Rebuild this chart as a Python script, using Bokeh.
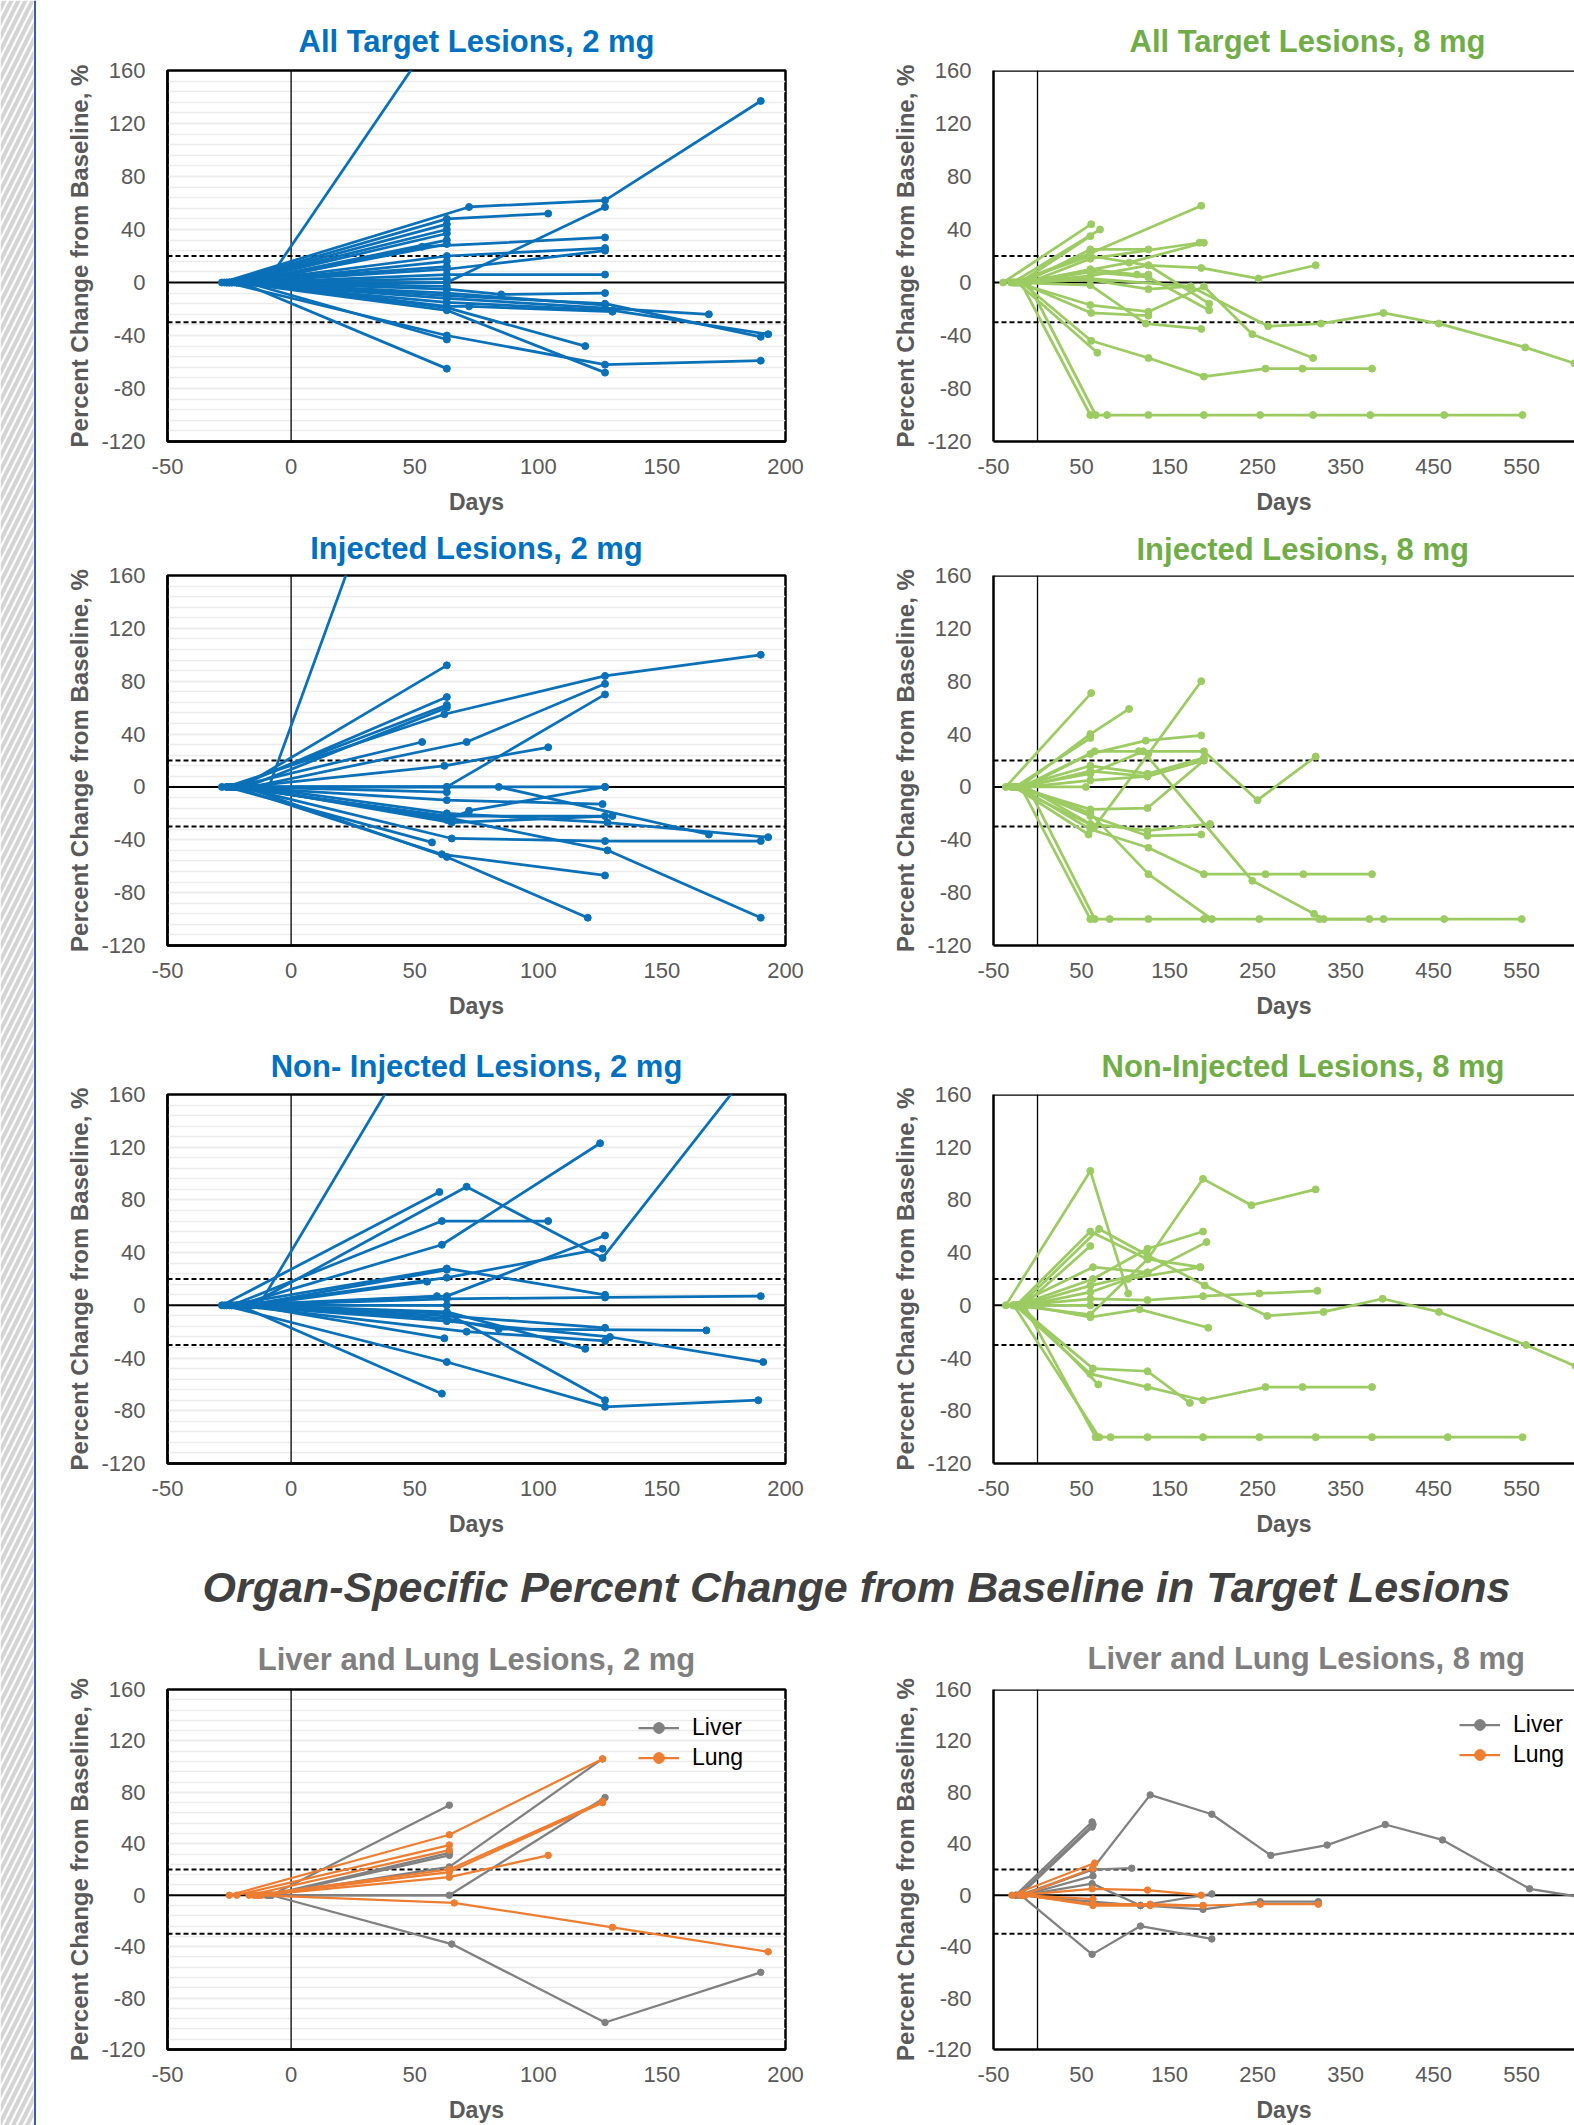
from bokeh.plotting import figure
from bokeh.models import Range1d, FixedTicker, Span, Label, Legend, LegendItem, Title
from bokeh.layouts import row, column
from bokeh.embed import file_html
from bokeh.resources import INLINE

# ---------------- data (days from treatment start, % change from baseline) -------------
y_ticks = [-120, -80, -40, 0, 40, 80, 120, 160]
y_minor = list(range(-120, 161, 8))
x_ticks_2mg = [-50, 0, 50, 100, 150, 200]
x_ticks_8mg = [-50, 50, 150, 250, 350, 450, 550]
ref_levels = [20, -30]

# All target lesions, 2 mg
tl2_days = [[-10, 63], [-28, 72, 127, 190], [-26, 63, 104], [-25, 63], [-24, 63], [-22, 63],
            [-20, 63], [-18, 63], [-16, 53, 127], [-21, 63, 127], [-23, 63, 127], [-19, 63],
            [-17, 63, 127], [-15, 63, 127], [-27, 63], [-14, 63], [-20, 63, 85, 127],
            [-22, 63, 127], [-19, 63, 72, 130], [-24, 63, 169], [-20, 63, 127, 190],
            [-25, 63, 130, 193], [-21, 63, 119], [-26, 63, 127, 190], [-18, 63],
            [-22, 63, 127], [-20, 63], [-13, 63]]
tl2_pct = [[0, 200], [0, 57, 62, 137], [0, 48, 52], [0, 44], [0, 40], [0, 37],
           [0, 32], [0, 29], [0, 27, 34], [0, 20, 26], [0, 10, 24], [0, 16],
           [0, 6, 6], [0, 0, 57], [0, 12], [0, 3], [0, -5, -9, -8],
           [0, -8, -17], [0, -18, -18, -22], [0, -12, -24], [0, -10, -16, -41],
           [0, -15, -21, -39], [0, -19, -48], [0, -40, -62, -59], [0, -43],
           [0, -21, -68], [0, -65], [0, -3]]

# Injected lesions, 2 mg
inj2_days = [[-9, 63], [-20, 63], [-22, 63], [-24, 63], [-18, 63], [-26, 62, 127, 190],
             [-16, 71, 127], [-21, 63, 127], [-23, 53], [-19, 62, 104], [-28, 84, 169],
             [-25, 63, 127], [-17, 63], [-22, 63, 126], [-20, 63, 72, 127], [-24, 63, 127],
             [-18, 65, 130], [-21, 65, 127, 190], [-15, 63, 128, 193], [-26, 57],
             [-23, 61, 127], [-19, 63, 120], [-20, 65, 128, 190]]
inj2_pct = [[0, 370], [0, 92], [0, 68], [0, 62], [0, 60], [0, 55, 84, 100],
            [0, 34, 78], [0, 0, 70], [0, 34], [0, 16, 30], [0, 0, -36],
            [0, 0, 0], [0, -4], [0, -10, -13], [0, -25, -18, 0], [0, -22, -22],
            [0, -27, -22], [0, -39, -41, -41], [0, -20, -27, -38], [0, -42],
            [0, -51, -67], [0, -53, -99], [0, -24, -48, -99]]

# Non-injected lesions, 2 mg
ninj2_days = [[-13, 63], [-17, 71, 126, 190], [-28, 60], [-24, 61, 104], [-22, 61, 125],
              [-20, 63, 127], [-19, 63, 126], [-26, 63, 127], [-18, 63], [-16, 55],
              [-21, 63, 127, 190], [-23, 59], [-15, 63], [-25, 63, 127], [-20, 63, 84, 168],
              [-22, 71, 127], [-18, 63, 119], [-24, 63, 129, 191], [-17, 62],
              [-27, 63, 127, 189], [-19, 63, 127], [-21, 61]]
ninj2_pct = [[0, 239], [0, 90, 36, 189], [0, 86], [0, 64, 64], [0, 46, 123],
             [0, 7, 53], [0, 21, 43], [0, 28, 8], [0, 27], [0, 18],
             [0, 5, 6, 7], [0, 7], [0, 0], [0, -8, -17], [0, -10, -18, -19],
             [0, -20, -27], [0, -5, -33], [0, -12, -24, -43], [0, -25],
             [0, -43, -77, -72], [0, -6, -72], [0, -67]]

# All target lesions, 8 mg
tl8_days = [[-39, 61], [-28, 71], [-20, 60], [-15, 60, 126], [-25, 60, 186], [-10, 60, 184],
            [-18, 104, 189], [-22, 60, 126, 186, 251, 316], [-12, 60, 113, 126],
            [-30, 60, 174], [-26, 60, 126, 195], [-14, 60, 126, 195],
            [-24, 60, 126, 189, 244, 313],
            [-16, 60, 126, 174, 262, 322, 393, 456, 554, 610],
            [-20, 61, 126], [-27, 60, 123, 186], [-18, 61, 126, 189, 259, 301, 380],
            [-23, 68], [-19, 60], [-11, 66, 79, 126, 189, 253, 313, 378, 462, 551]]
tl8_pct = [[0, 44], [0, 40], [0, 35], [0, 25, 25], [0, 22, 58], [0, 18, 30],
           [0, 15, 30], [0, 5, 13, 11, 3, 13], [0, 10, 6, 6],
           [0, 3, -3], [0, 20, 13, -16], [0, 8, 4, -21],
           [0, -17, -22, -3, -39, -57],
           [0, 2, -5, -3, -33, -31, -23, -31, -49, -61],
           [0, -23, -25], [0, -2, -31, -35], [0, -44, -57, -71, -65, -65, -65],
           [0, -53], [0, -100], [0, -100, -100, -100, -100, -100, -100, -100, -100, -100]]

# Injected lesions, 8 mg
inj8_days = [[-36, 61], [-20, 60, 104], [-25, 60], [-15, 60, 123, 186], [-28, 65, 126, 186],
             [-18, 65, 115, 189, 250, 316], [-22, 60, 125, 189], [-12, 60, 125, 189],
             [-30, 55], [-16, 60, 125], [-24, 60, 125, 189], [-20, 60, 125, 186],
             [-26, 58], [-14, 60, 125, 196], [-21, 60, 126, 189, 259, 302, 380],
             [-17, 60, 126, 198], [-23, 60, 120, 244, 314, 325, 393, 462, 550],
             [-19, 60], [-11, 65, 82, 126, 189, 252, 320, 377]]
inj8_pct = [[0, 71], [0, 40, 59], [0, 37], [0, 25, 35, 39], [0, -30, 25, 80],
            [0, 27, 27, 27, -10, 23], [0, 16, 10, 22], [0, 5, 8, 20],
            [0, 0], [0, 12, 8], [0, -17, -16, 20], [0, -22, -37, -36],
            [0, -36], [0, -28, -33, -28], [0, -32, -46, -66, -66, -66, -66],
            [0, -20, -66, -100], [0, 10, 27, -71, -96, -100, -100, -100, -100],
            [0, -100], [0, -100, -100, -100, -100, -100, -100, -100]]

# Non-injected lesions, 8 mg
ninj8_days = [[-36, 60, 103], [-24, 60, 125, 185], [-20, 70, 125, 190, 261, 325, 392, 456, 555, 611],
              [-16, 60], [-28, 60, 125, 188, 243, 316], [-12, 60, 116, 194],
              [-22, 63, 125, 188], [-18, 60, 125, 192], [-26, 63, 125], [-14, 60, 103, 185],
              [-21, 60, 125, 188, 252, 318], [-17, 60], [-23, 63, 125, 173], [-19, 69],
              [-25, 60, 125, 188, 259, 301, 380], [-15, 66],
              [-27, 70, 83, 125, 188, 252, 316, 380, 466, 551]]
ninj8_pct = [[0, 102, 9], [0, 56, 35, 29], [0, 58, 38, 15, -8, -5, 5, -5, -30, -46],
             [0, 45], [0, -7, 35, 96, 76, 88], [0, -9, -3, -17],
             [0, 20, 43, 56], [0, 15, 25, 48], [0, 29, 25], [0, 10, 20, 29],
             [0, 5, 4, 7, 9, 11], [0, 0], [0, -48, -50, -74], [0, -60],
             [0, -52, -62, -72, -62, -62, -62], [0, -100],
             [0, -100, -100, -100, -100, -100, -100, -100, -100, -100]]

# Liver / lung lesions, 2 mg
liver2_days = [[-8, 64], [-8, 64], [-9, 64, 126], [-10, 64, 127], [-8, 65, 127, 190], [-9, 64]]
liver2_pct = [[0, 70], [0, 31], [0, 22, 106], [0, 0, 76], [0, -38, -99, -60], [0, 33]]
lung2_days = [[-25, 64, 126], [-22, 64], [-17, 64], [-15, 64, 126], [-12, 64, 104],
              [-13, 64, 126], [-14, 66, 130, 193]]
lung2_pct = [[0, 47, 106], [0, 39], [0, 35], [0, 20, 73], [0, 14, 31],
             [0, 18, 72], [0, -6, -25, -44]]

# Liver / lung lesions, 8 mg
liver8_days = [[-25, 62], [-22, 63], [-20, 62], [-18, 63, 107], [-16, 63],
               [-15, 62, 117, 198], [-24, 62, 117, 188, 253, 319], [-19, 62, 117, 198],
               [-21, 62, 128, 198, 265, 329, 395, 460, 559, 613]]
liver8_pct = [[0, 57], [0, 55], [0, 53], [0, 20, 21], [0, 15],
              [0, 9, -8, 1], [0, -5, -8, -11, -5, -5], [0, -46, -24, -34],
              [0, 20, 78, 63, 31, 39, 55, 43, 5, -1]]
lung8_days = [[-29, 65], [-17, 63], [-20, 62, 125, 186], [-18, 63],
              [-16, 63, 128, 188, 253, 319], [-14, 63, 128, 188]]
lung8_pct = [[0, 25], [0, 21], [0, 5, 4, 0], [0, -3],
             [0, -7, -7, -8, -7, -7], [0, -8, -8, -8]]

# ---------------- styling -------------------------------------------------------------
FONT = "Liberation Sans"
AX = "#595959"
BLUE, BLUE_T = "#0a70b8", "#0070c0"
GREEN, GREEN_T = "#9dcb63", "#70ad47"
GRAY, ORANGE = "#808080", "#ed7d31"


def make_panel(side, height, mbt, mbb, title, tcolor, title_off, title_standoff):
    left = side == "left"
    if left:
        w, mbl, mbr, xr, xt = 844, 131, 95, (-50, 200), x_ticks_2mg
    else:
        w, mbl, mbr, xr, xt = 694, 113, 0, (-50, 610), x_ticks_8mg
    p = figure(width=w, height=height, x_range=Range1d(*xr), y_range=Range1d(-120, 160),
               output_backend="svg", toolbar_location=None,
               min_border_left=mbl, min_border_right=mbr,
               min_border_top=mbt, min_border_bottom=mbb)
    p.background_fill_color = "white"
    p.border_fill_color = "white"
    p.xaxis.ticker = FixedTicker(ticks=xt)
    p.yaxis.ticker = FixedTicker(ticks=y_ticks, minor_ticks=y_minor)
    p.xaxis.major_label_overrides = {t: str(t) for t in xt}
    p.yaxis.major_label_overrides = {t: str(t) for t in y_ticks}
    for ax in (p.xaxis[0], p.yaxis[0]):
        ax.major_tick_line_color = None
        ax.minor_tick_line_color = None
        ax.major_tick_out = 0
        ax.major_tick_in = 0
        ax.axis_line_color = "black"
        ax.axis_line_width = 2.5
        ax.major_label_text_font = FONT
        ax.major_label_text_font_size = "22px"
        ax.major_label_text_color = AX
        ax.axis_label_text_font = FONT
        ax.axis_label_text_font_style = "bold"
        ax.axis_label_text_color = AX
    p.yaxis.axis_label = "Percent Change from Baseline, %"
    p.yaxis.axis_label_text_font_size = "24px"
    p.yaxis.major_label_standoff = 18
    p.yaxis.axis_label_standoff = 5
    p.xaxis.axis_label = "Days"
    p.xaxis.axis_label_text_font_size = "23px"
    p.xaxis.major_label_standoff = 17
    p.xaxis.axis_label_standoff = 12
    p.xgrid.grid_line_color = None
    if left:
        p.ygrid.grid_line_color = "#ececec"
        p.ygrid.grid_line_width = 1.6
        p.ygrid.minor_grid_line_color = "#ececec"
        p.ygrid.minor_grid_line_width = 1.6
        p.outline_line_color = "black"
        p.outline_line_width = 2.5
        p.outline_line_alpha = 1
    else:
        p.ygrid.grid_line_color = None
        p.outline_line_color = None
        p.add_layout(Span(location=160, dimension="width", line_color="black",
                          line_width=2.5, level="overlay"))
    p.add_layout(Span(location=0, dimension="width", line_color="black",
                      line_width=2, level="underlay"))
    p.add_layout(Span(location=0, dimension="height", line_color="black",
                      line_width=1.3, level="underlay"))
    for v in ref_levels:
        p.add_layout(Span(location=v, dimension="width", line_color="black",
                          line_width=2, line_dash="5 3", level="underlay"))
    t = Title(text=title, align="center" if left else "left", offset=title_off,
              text_font=FONT, text_font_style="bold", text_font_size="31px",
              text_color=tcolor, standoff=title_standoff, vertical_align="middle")
    p.add_layout(t, "above")
    return p


def add_series(p, days, pct, color, lw=2.75, size=7):
    ml = p.multi_line(days, pct, line_color=color, line_width=lw)
    xs = [d for s in days for d in s]
    ys = [v for s in pct for v in s]
    sc = p.scatter(xs, ys, size=size, fill_color=color, line_color=color)
    return ml, sc


ROW_A = (520, 70, 79)
ROW_B = (515, 55, 90)
ROW_C = (520, 59, 92)
ROW_D = (505, 69, 68)

p1 = make_panel("left", *ROW_A, "All Target Lesions, 2 mg", BLUE_T, 0, 22)
add_series(p1, tl2_days, tl2_pct, BLUE)
p2 = make_panel("right", *ROW_A, "All Target Lesions, 8 mg", GREEN_T, 136, 22)
add_series(p2, tl8_days, tl8_pct, GREEN)
p3 = make_panel("left", *ROW_B, "Injected Lesions, 2 mg", BLUE_T, 0, 18)
add_series(p3, inj2_days, inj2_pct, BLUE)
p4 = make_panel("right", *ROW_B, "Injected Lesions, 8 mg", GREEN_T, 143, 16)
add_series(p4, inj8_days, inj8_pct, GREEN)
p5 = make_panel("left", *ROW_C, "Non- Injected Lesions, 2 mg", BLUE_T, 0, 20)
add_series(p5, ninj2_days, ninj2_pct, BLUE)
p6 = make_panel("right", *ROW_C, "Non-Injected Lesions, 8 mg", GREEN_T, 108, 20)
add_series(p6, ninj8_days, ninj8_pct, GREEN)
p7 = make_panel("left", *ROW_D, "Liver and Lung Lesions, 2 mg", "#7f7f7f", 0, 24)
l7a = add_series(p7, liver2_days, liver2_pct, GRAY, lw=2.25, size=6.5)
l7b = add_series(p7, lung2_days, lung2_pct, ORANGE, lw=2.25, size=6.5)
p8 = make_panel("right", *ROW_D, "Liver and Lung Lesions, 8 mg", "#7f7f7f", 94, 25)
l8a = add_series(p8, liver8_days, liver8_pct, GRAY, lw=2.25, size=6.5)
l8b = add_series(p8, lung8_days, lung8_pct, ORANGE, lw=2.25, size=6.5)

for p, (a, b), loc in ((p7, (l7a, l7b), (471, 278)), (p8, (l8a, l8b), (466, 281))):
    lg = Legend(items=[LegendItem(label="Liver", renderers=list(a)),
                       LegendItem(label="Lung", renderers=list(b))],
                location=loc, border_line_color=None, background_fill_alpha=0,
                label_text_font=FONT, label_text_font_size="23px", label_text_color="black",
                glyph_width=41, glyph_height=27, label_height=27, label_standoff=13,
                spacing=3, padding=10, margin=0)
    p.add_layout(lg)

# decorative hatched strip at left edge
strip = figure(width=36, height=2125, x_range=Range1d(0, 36), y_range=Range1d(0, 2125),
               output_backend="svg", toolbar_location=None, min_border=0,
               x_axis_location=None, y_axis_location=None)
strip.grid.visible = False
strip.outline_line_color = None
strip.quad(left=[0], right=[33], bottom=[0], top=[2125], fill_color="white", line_color=None,
           hatch_pattern="/", hatch_color="#d4d4d4", hatch_weight=4, hatch_scale=14)
strip.add_layout(Span(location=34.5, dimension="height", line_color="#3b5ca8", line_width=2))

# section heading
head = figure(width=1538, height=65, x_range=Range1d(0, 1538), y_range=Range1d(0, 65),
              output_backend="svg", toolbar_location=None, min_border=0,
              x_axis_location=None, y_axis_location=None)
head.grid.visible = False
head.outline_line_color = None
head.add_layout(Label(x=820, y=34, text="Organ-Specific Percent Change from Baseline in Target Lesions",
                      text_align="center", text_baseline="middle", text_font=FONT,
                      text_font_style="bold italic", text_font_size="43px", text_color="#404040"))

layout = row(strip, column(row(p1, p2), row(p3, p4), row(p5, p6), head, row(p7, p8)))

open("out.html", "w").write(file_html(layout, INLINE))
